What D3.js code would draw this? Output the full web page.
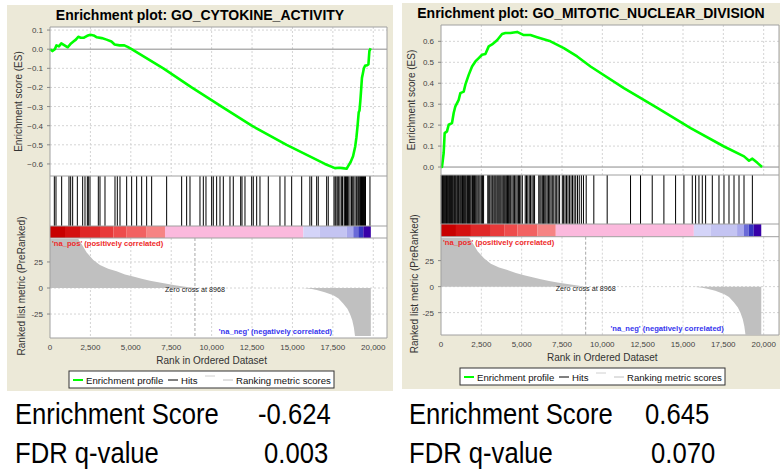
<!DOCTYPE html>
<html>
<head>
<meta charset="utf-8">
<script src="https://cdn.jsdelivr.net/npm/d3@7"></script>
<style>
body { margin: 0; background: #fff; }
svg { display: block; font-family: "Liberation Sans", Arial, sans-serif; }
</style>
</head>
<body>
<div class="content"></div>
<script>
// ---- data ----
const rankTicks = [0, 2500, 5000, 7500, 10000, 12500, 15000, 17500, 20000];
const metricTicks = [-25, 0, 25];
const cytoTicks = [-0.6, -0.5, -0.4, -0.3, -0.2, -0.1, 0, 0.1];
const mitoTicks = [0, 0.1, 0.2, 0.3, 0.4, 0.5, 0.6];
const zeroCross = 8968;

// running enrichment score, [rank, ES]
const cytoES = [
  [0, 0], [150, -0.01], [300, 0.0], [400, 0.02], [550, 0.015], [700, 0.03], [900, 0.02],
  [1100, 0.01], [1300, 0.03], [1450, 0.04], [1600, 0.05], [1750, 0.065], [1900, 0.06],
  [2100, 0.06], [2300, 0.07], [2500, 0.075], [2700, 0.072], [2900, 0.062], [3200, 0.058],
  [3500, 0.05], [3800, 0.04], [4000, 0.025], [4300, 0.02], [4600, 0.02], [4800, 0.012],
  [5050, 0.0], [7010, -0.1], [8760, -0.2], [10620, -0.3], [12480, -0.4], [14640, -0.5],
  [17010, -0.6], [17630, -0.622], [17900, -0.62], [18100, -0.622], [18350, -0.625],
  [18455, -0.61], [18600, -0.59], [18750, -0.56], [18880, -0.51], [18960, -0.46],
  [19030, -0.4], [19100, -0.33], [19150, -0.32], [19200, -0.27], [19260, -0.2],
  [19300, -0.15], [19350, -0.13], [19420, -0.1], [19500, -0.085], [19600, -0.085],
  [19700, -0.08], [19760, -0.01], [19840, 0.005]
];
const mitoES = [
  [0, 0], [60, 0.0], [165, 0.067], [227, 0.162], [372, 0.17], [476, 0.202], [683, 0.21],
  [786, 0.258], [890, 0.29], [1097, 0.321], [1200, 0.353], [1407, 0.36], [1510, 0.393],
  [1717, 0.44], [1924, 0.48], [2131, 0.504], [2338, 0.52], [2545, 0.536], [2751, 0.54],
  [2958, 0.576], [3165, 0.585], [3475, 0.605], [3785, 0.635], [3992, 0.64], [4302, 0.64],
  [4716, 0.645], [5130, 0.63], [5543, 0.63], [5957, 0.62], [6785, 0.6], [7612, 0.568],
  [8440, 0.528], [9267, 0.48], [11336, 0.377], [13404, 0.282], [15473, 0.186],
  [17542, 0.098], [18783, 0.051], [19093, 0.03], [19300, 0.04], [19610, 0.02], [19900, 0.0]
];

// gene set members, by rank
const cytoHits = [
  268, 371, 722, 1175, 1278, 1402, 1691, 2021, 2165, 2310, 2371, 2474, 2990, 3093, 3402,
  4021, 4165, 4330, 4743, 5052, 5361, 5671, 5980, 6289, 7217, 8145, 8454, 8661, 9279,
  9486, 9650, 10001, 10104, 10310, 10517, 10723, 11135, 11340, 11797, 11878, 12063, 12478,
  12577, 12787, 12991, 13505, 14228, 14537, 14952, 15571, 16078, 16189, 16498, 16597,
  17117, 17216, 17569, 17640, 17693, 17773, 17860, 17940, 18045, 18100, 18200, 18249,
  18280, 18311, 18330, 18373, 18400, 18453, 18558, 18650, 18700, 18762, 18868, 18950,
  19000, 19072, 19120, 19177, 19200, 19239, 19270, 19301, 19330, 19363, 19390, 19425,
  19450, 19486, 19520, 19796
];
const mitoHits = [
  15, 48, 90, 130, 170, 205, 260, 300, 345, 390, 430, 480, 520, 575, 610, 660, 700, 745,
  800, 850, 880, 930, 990, 1040, 1075, 1120, 1180, 1230, 1290, 1330, 1380, 1420, 1470,
  1530, 1600, 1650, 1700, 1760, 1810, 1870, 1950, 2010, 2080, 2150, 2220, 2290, 2350,
  2420, 2500, 2570, 2640, 2900, 2960, 3020, 3100, 3170, 3220, 3290, 3350, 3410, 3480,
  3540, 3600, 3660, 3720, 3790, 3860, 3920, 3980, 4050, 4120, 4190, 4260, 4320, 4400,
  4480, 4560, 4640, 4720, 4800, 4870, 4950, 5040, 5220, 5300, 5380, 5470, 5550, 5640,
  5720, 5800, 6060, 6130, 6200, 6280, 6350, 6430, 6500, 6580, 6660, 6740, 6820, 6900,
  6990, 7080, 7170, 7260, 7350, 7520, 7600, 7690, 7780, 7870, 7960, 8060, 8150, 8250,
  8350, 8460, 8570, 8700, 8830, 9000, 9472, 10300, 11748, 12368, 13092, 13816, 14540,
  15057, 15575, 15781, 15988, 16195, 16402, 16816, 17230, 17540, 17850, 18161, 18471,
  18781, 19299
];

// ranked list metric (same list for both sets), [rank, metric]
const metricCurve = [
  [0, 47], [1750, 47], [1960, 42], [2270, 34], [2680, 27], [3090, 22], [3600, 18.5],
  [4120, 16], [4640, 13], [5150, 11], [5670, 9], [6190, 7], [6700, 5.5], [7220, 4],
  [7730, 2.7], [8250, 1.5], [8968, 0], [15670, 0], [16200, -1], [16500, -2], [17000, -4],
  [17530, -7], [17850, -10], [18150, -15], [18400, -20], [18560, -25], [18700, -31],
  [18800, -38], [18870, -46], [19850, -46]
];

// heat bar bands, [from rank, to rank, colour]
const colorBands = [
  [0, 928, '#c80000'], [928, 1856, '#d41010'], [1856, 3093, '#e02828'],
  [3093, 3918, '#e83a3a'], [3918, 4743, '#ee4c4c'], [4743, 5980, '#f26262'],
  [5980, 7114, '#f68484'], [7114, 15672, '#fbb9dd'], [15672, 16703, '#d4d4f8'],
  [16703, 18352, '#c4c4f2'], [18352, 18764, '#a8a8ec'], [18764, 19074, '#6a6ad8'],
  [19074, 19383, '#3434c0'], [19383, 19850, '#3800a8']
];

const statLabels = ['Enrichment Score', 'FDR q-value'];
const cytoStats = ['-0.624', '0.003'];
const mitoStats = ['0.645', '0.070'];

// ---- drawing ----
const [svgWidth, svgHeight] = [780, 469];
const svg = d3.select('.content')
  .append('svg')
  .attr('width', svgWidth)
  .attr('height', svgHeight);

const fmtRank = d3.format(',');
const fmtES = d3.format('.1f');

const drawPanel = (p) => {
  const g = svg.append('g');
  g.append('rect')
    .attr('x', p.bx).attr('y', p.by)
    .attr('width', p.bw).attr('height', p.bh)
    .attr('fill', '#ece9d8');

  const x = d3.scaleLinear().domain([0, p.xMax]).range([p.x0, p.x1]);
  const yES = d3.scaleLinear().domain(p.esDomain).range([p.esBottom, p.esTop]);
  const yM = d3.scaleLinear().domain(p.metDomain).range([p.metBottom, p.barBottom]);

  g.append('rect')
    .attr('x', p.x0).attr('y', p.esTop)
    .attr('width', p.x1 - p.x0).attr('height', p.metBottom - p.esTop)
    .attr('fill', '#fff');

  g.append('text')
    .attr('x', p.bx + p.bw / 2).attr('y', p.esTop - 7)
    .attr('text-anchor', 'middle')
    .attr('font-size', 14).attr('font-weight', 'bold')
    .text(p.title);

  // dotted grid
  const grid = g.append('g')
    .attr('stroke', '#d4d4d4').attr('stroke-dasharray', '2,2').attr('stroke-width', 1);
  grid.selectAll('line.vx')
    .data(rankTicks.slice(1))
    .enter().append('line')
    .attr('x1', d => x(d)).attr('x2', d => x(d))
    .attr('y1', p.esTop).attr('y2', p.esBottom);
  grid.selectAll('line.vm')
    .data(rankTicks.slice(1))
    .enter().append('line')
    .attr('x1', d => x(d)).attr('x2', d => x(d))
    .attr('y1', p.barBottom).attr('y2', p.metBottom);
  grid.selectAll('line.he')
    .data(p.esTicks.filter(d => d !== 0))
    .enter().append('line')
    .attr('x1', p.x0).attr('x2', p.x1)
    .attr('y1', d => yES(d)).attr('y2', d => yES(d));
  grid.selectAll('line.hm')
    .data(metricTicks)
    .enter().append('line')
    .attr('x1', p.x0).attr('x2', p.x1)
    .attr('y1', d => yM(d)).attr('y2', d => yM(d));

  g.append('line')
    .attr('x1', p.x0).attr('x2', p.x1)
    .attr('y1', yES(0)).attr('y2', yES(0))
    .attr('stroke', '#8a8a8a');

  // ranked metric area
  g.append('path')
    .datum(metricCurve)
    .attr('fill', '#c0c0c0')
    .attr('d', d3.area().x(d => x(d[0])).y0(yM(0)).y1(d => yM(d[1])));

  g.append('line')
    .attr('x1', x(zeroCross)).attr('x2', x(zeroCross))
    .attr('y1', p.barBottom).attr('y2', p.metBottom)
    .attr('stroke', '#a8a8a8').attr('stroke-dasharray', '3,2');
  g.append('text')
    .attr('x', x(zeroCross)).attr('y', yM(0) + 4)
    .attr('text-anchor', 'middle').attr('font-size', 7.2).attr('fill', '#222')
    .text('Zero cross at ' + zeroCross);
  g.append('text')
    .attr('x', p.x0 + 2).attr('y', p.barBottom + 8)
    .attr('font-size', 7.6).attr('font-weight', 'bold').attr('fill', '#ee2a2a')
    .text("'na_pos' (positively correlated)");
  g.append('text')
    .attr('x', p.x0 + 0.669 * (p.x1 - p.x0)).attr('y', p.metBottom - 4)
    .attr('text-anchor', 'middle')
    .attr('font-size', 7.6).attr('font-weight', 'bold').attr('fill', '#3535ee')
    .text("'na_neg' (negatively correlated)");

  // heat bar
  g.selectAll('rect.band')
    .data(colorBands)
    .enter().append('rect')
    .attr('x', d => x(d[0])).attr('width', d => x(d[1]) - x(d[0]))
    .attr('y', p.hitsBottom).attr('height', p.barBottom - p.hitsBottom)
    .attr('fill', d => d[2]);

  // hits
  g.selectAll('line.hit')
    .data(p.hits)
    .enter().append('line')
    .attr('x1', d => x(d)).attr('x2', d => x(d))
    .attr('y1', p.esBottom).attr('y2', p.hitsBottom)
    .attr('stroke', '#000').attr('stroke-width', 1);

  // enrichment profile
  g.append('path')
    .datum(p.es)
    .attr('fill', 'none')
    .attr('stroke', '#00ff00').attr('stroke-width', 2.6)
    .attr('stroke-linejoin', 'round')
    .attr('d', d3.line().x(d => x(d[0])).y(d => yES(d[1])));

  // frames
  const frame = g.append('g').attr('stroke', '#a0a0a0').attr('fill', 'none');
  [p.esTop, p.esBottom, p.hitsBottom, p.barBottom, p.metBottom].forEach(y => {
    frame.append('line').attr('x1', p.x0).attr('x2', p.x1).attr('y1', y).attr('y2', y);
  });
  [p.x0, p.x1].forEach(xx => {
    frame.append('line').attr('x1', xx).attr('x2', xx).attr('y1', p.esTop).attr('y2', p.metBottom);
  });

  // axes text
  const ax = g.append('g').attr('font-size', 8).attr('fill', '#444');
  ax.selectAll('text.ye')
    .data(p.esTicks)
    .enter().append('text')
    .attr('x', p.x0 - 7).attr('y', d => yES(d) + 3)
    .attr('text-anchor', 'end')
    .text(d => fmtES(d));
  ax.selectAll('text.ym')
    .data(metricTicks)
    .enter().append('text')
    .attr('x', p.x0 - 7).attr('y', d => yM(d) + 3)
    .attr('text-anchor', 'end')
    .text(d => d);
  ax.selectAll('text.xr')
    .data(rankTicks)
    .enter().append('text')
    .attr('x', d => x(d)).attr('y', p.metBottom + 11.5)
    .attr('text-anchor', 'middle')
    .text(d => fmtRank(d));
  const ticks = g.append('g').attr('stroke', '#888');
  ticks.selectAll('line.te')
    .data(p.esTicks)
    .enter().append('line')
    .attr('x1', p.x0 - 3).attr('x2', p.x0)
    .attr('y1', d => yES(d)).attr('y2', d => yES(d));
  ticks.selectAll('line.tm')
    .data(metricTicks)
    .enter().append('line')
    .attr('x1', p.x0 - 3).attr('x2', p.x0)
    .attr('y1', d => yM(d)).attr('y2', d => yM(d));

  g.append('text')
    .attr('transform', `translate(${p.labelX},${(p.esTop + p.esBottom) / 2}) rotate(-90)`)
    .attr('text-anchor', 'middle').attr('font-size', 10).attr('fill', '#333')
    .text('Enrichment score (ES)');
  g.append('text')
    .attr('transform', `translate(${p.labelX + 3},${(p.barBottom + p.metBottom) / 2 - 2}) rotate(-90)`)
    .attr('text-anchor', 'middle').attr('font-size', 10).attr('fill', '#333')
    .text('Ranked list metric (PreRanked)');
  g.append('text')
    .attr('x', x(10000)).attr('y', p.metBottom + 26)
    .attr('text-anchor', 'middle').attr('font-size', 10).attr('fill', '#333')
    .text('Rank in Ordered Dataset');

  // legend
  const bl = p.x0 + 19, bt = p.metBottom + 33, bh = 17;
  const lg = g.append('g');
  lg.append('rect')
    .attr('x', bl).attr('y', bt).attr('width', 265).attr('height', bh)
    .attr('fill', '#fff').attr('stroke', '#333');
  const my = bt + bh / 2 + 0.5;
  const legendItems = [
    {x: 4, dy: 0, color: '#00ff00', w: 2, label: 'Enrichment profile'},
    {x: 99, dy: 0, color: '#000', w: 1, label: 'Hits'},
    {x: 136, dy: -4, color: '#d0d0d0', w: 1, label: ''},
    {x: 154, dy: 0, color: '#c0c0c0', w: 1, label: 'Ranking metric scores'}
  ];
  legendItems.forEach(it => {
    lg.append('line')
      .attr('x1', bl + it.x).attr('x2', bl + it.x + 10)
      .attr('y1', my + it.dy).attr('y2', my + it.dy)
      .attr('stroke', it.color).attr('stroke-width', it.w);
    lg.append('text')
      .attr('x', bl + it.x + 13).attr('y', my + 3.5)
      .attr('font-size', 9.6).attr('fill', '#111')
      .text(it.label);
  });

  // summary numbers below the panel (narrow face, squeezed sans)
  const st = svg.append('g')
    .attr('font-size', 30).attr('fill', '#000');
  const narrow = 0.855;
  statLabels.forEach((lab, i) => {
    const y = 424 + 39 * i;
    st.append('text')
      .attr('transform', `translate(${p.statX},${y}) scale(${narrow},1)`)
      .text(lab);
    st.append('text')
      .attr('transform', `translate(${p.numX[i]},${y}) scale(${narrow},1)`)
      .text(p.stats[i]);
  });
};

drawPanel({
  title: 'Enrichment plot: GO_CYTOKINE_ACTIVITY',
  bx: 7, by: 5, bw: 386, bh: 386,
  x0: 50, x1: 387, xMax: 20850,
  esTop: 27, esBottom: 176, hitsBottom: 226, barBottom: 238, metBottom: 338,
  esDomain: [-0.663, 0.116], metDomain: [-48, 48],
  esTicks: cytoTicks, es: cytoES, hits: cytoHits,
  labelX: 22, statX: 15, numX: [258, 264], stats: cytoStats
});
drawPanel({
  title: 'Enrichment plot: GO_MITOTIC_NUCLEAR_DIVISION',
  bx: 402, by: 3, bw: 378, bh: 386,
  x0: 441, x1: 779, xMax: 20950,
  esTop: 25, esBottom: 175, hitsBottom: 224, barBottom: 236.7, metBottom: 335,
  esDomain: [-0.038, 0.678], metDomain: [-46.5, 48],
  esTicks: mitoTicks, es: mitoES, hits: mitoHits,
  labelX: 415, statX: 409, numX: [645, 651], stats: mitoStats
});
</script>
</body>
</html>
